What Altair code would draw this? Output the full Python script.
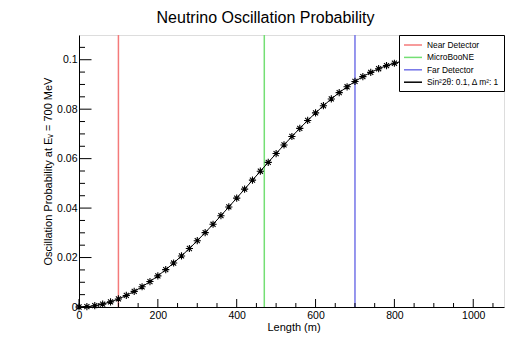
import altair as alt
import pandas as pd

# ---- data ----
chart_title = ["Neutrino Oscillation Probability"]
lengths = [0, 20, 40, 60, 80, 100, 120, 140, 160, 180,
           200, 220, 240, 260, 280, 300, 320, 340, 360, 380,
           400, 420, 440, 460, 480, 500, 520, 540, 560, 580,
           600, 620, 640, 660, 680, 700, 720, 740, 760, 780,
           800, 820, 840, 860, 880, 900, 920, 940, 960, 980]
probability = [0.0, 0.000132, 0.000526, 0.00118, 0.00209, 0.00326, 0.00467, 0.00631, 0.00819, 0.01029,
               0.0126, 0.0151, 0.01779, 0.02065, 0.02366, 0.02681, 0.03009, 0.03346, 0.03693, 0.04046,
               0.04405, 0.04766, 0.05129, 0.05491, 0.0585, 0.06205, 0.06554, 0.06895, 0.07225, 0.07544,
               0.07849, 0.0814, 0.08414, 0.0867, 0.08906, 0.09122, 0.09317, 0.09488, 0.09636, 0.0976,
               0.09858, 0.09931, 0.09978, 0.09999, 0.09993, 0.09962, 0.09904, 0.0982, 0.09711, 0.09577]

detector_names = ["Near Detector", "MicroBooNE", "Far Detector"]
detector_positions = [100, 470, 700]
curve_label = "Sin\u00b22\u03b8: 0.1, \u0394 m\u00b2: 1"

legend_names = detector_names + [curve_label]
legend_colors = ["#f47a7a", "#74df74", "#7474e8", "#000000"]

x_label_values = [0, 200, 400, 600, 800, 1000]
x_minor_values = [50, 100, 150, 250, 300, 350, 450, 500, 550, 650, 700, 750,
                  850, 900, 950, 1050]
y_label_values = [0, 0.02, 0.04, 0.06, 0.08, 0.1]
y_minor_values = [0.005, 0.01, 0.015, 0.025, 0.03, 0.035, 0.045, 0.05, 0.055,
                  0.065, 0.07, 0.075, 0.085, 0.09, 0.095, 0.105]

x_domain = [0, 1078]
y_domain = [0, 0.11]

# ---- layout / style ----
W, H = 425, 272
FONT = "Liberation Sans"
STAR = "M-1,0L1,0M0,-1L0,1M-0.7,-0.7L0.7,0.7M-0.7,0.7L0.7,-0.7"

curve_df = pd.DataFrame({"L": lengths, "P": probability})
det_df = pd.DataFrame({"L": detector_positions, "name": detector_names})
xmaj_df = pd.DataFrame({"L": x_label_values})
xmin_df = pd.DataFrame({"L": x_minor_values})
ymaj_df = pd.DataFrame({"P": y_label_values})
ymin_df = pd.DataFrame({"P": y_minor_values})
title_df = pd.DataFrame({"t": chart_title})

xs = alt.Scale(domain=x_domain, nice=False, zero=False)
ys = alt.Scale(domain=y_domain, nice=False, zero=False)

x_axis = alt.Axis(values=x_label_values, format="d", ticks=False, tickSize=0,
                  grid=False, labelFont=FONT, labelFontSize=10.5,
                  labelColor="black", labelPadding=3, labelFlush=False,
                  labelOverlap=False, domainColor="black", domainWidth=1,
                  title="Length (m)", titleFont=FONT, titleFontSize=11,
                  titleFontWeight="normal", titleColor="black",
                  titleX=214.5, titleY=23, titleBaseline="alphabetic",
                  titleAlign="center")
y_axis = alt.Axis(values=y_label_values, format=".2~f", ticks=False, tickSize=0,
                  grid=False, labelFont=FONT, labelFontSize=10.5,
                  labelColor="black", labelPadding=2, labelFlush=False,
                  labelOverlap=False, domainColor="black", domainWidth=1,
                  title="Oscillation Probability at E\u1d65 = 700 MeV",
                  titleFont=FONT, titleFontSize=11, titleFontWeight="normal",
                  titleColor="black", titleX=-27.5, titleY=H / 2,
                  titleBaseline="alphabetic", titleAlign="center", titleAngle=270)

color_scale = alt.Scale(domain=legend_names, range=legend_colors)
legend = alt.Legend(orient="top-right", offset=0, fillColor="white",
                    strokeColor="black", padding=4,
                    symbolType="M-1,0L2.6,0", symbolSize=100,
                    symbolStrokeWidth=1.5, labelFont=FONT, labelFontSize=8.4,
                    labelColor="black", labelOffset=12, rowPadding=1.4)

detectors = alt.Chart(det_df).mark_rule(strokeWidth=1.5).encode(
    x=alt.X("L:Q", scale=xs, axis=x_axis),
    color=alt.Color("name:N", scale=color_scale, legend=legend, title=None),
)

line = alt.Chart(curve_df).mark_line(strokeWidth=1).encode(
    x=alt.X("L:Q", scale=xs),
    y=alt.Y("P:Q", scale=ys, axis=y_axis),
    color=alt.datum(curve_label),
)

points = alt.Chart(curve_df).mark_point(
    shape=STAR, size=52, filled=False, color="black", strokeWidth=1.1, opacity=1
).encode(
    x=alt.X("L:Q", scale=xs),
    y=alt.Y("P:Q", scale=ys),
)

xmaj = alt.Chart(xmaj_df).mark_rule(color="black", strokeWidth=1).encode(
    x=alt.X("L:Q", scale=xs), y=alt.value(H), y2=alt.value(H - 8))
xmin = alt.Chart(xmin_df).mark_rule(color="black", strokeWidth=1).encode(
    x=alt.X("L:Q", scale=xs), y=alt.value(H), y2=alt.value(H - 4))
ymaj = alt.Chart(ymaj_df).mark_rule(color="black", strokeWidth=1).encode(
    y=alt.Y("P:Q", scale=ys), x=alt.value(0), x2=alt.value(12.5))
ymin = alt.Chart(ymin_df).mark_rule(color="black", strokeWidth=1).encode(
    y=alt.Y("P:Q", scale=ys), x=alt.value(0), x2=alt.value(6))

title = alt.Chart(title_df).mark_text(
    font=FONT, fontSize=16, color="black", align="center", baseline="alphabetic"
).encode(text="t:N", x=alt.value(186.5), y=alt.value(-12.5))

chart = alt.layer(detectors, line, points, xmaj, xmin, ymaj, ymin, title).properties(
    width=W, height=H,
    autosize=alt.AutoSizeParams(type="none"),
    padding={"left": 71, "top": 27, "right": 19, "bottom": 47},
).configure_view(stroke="black", strokeWidth=1).configure(background="white")

chart.save("out.html", embed_options={"renderer": "svg", "actions": False})
